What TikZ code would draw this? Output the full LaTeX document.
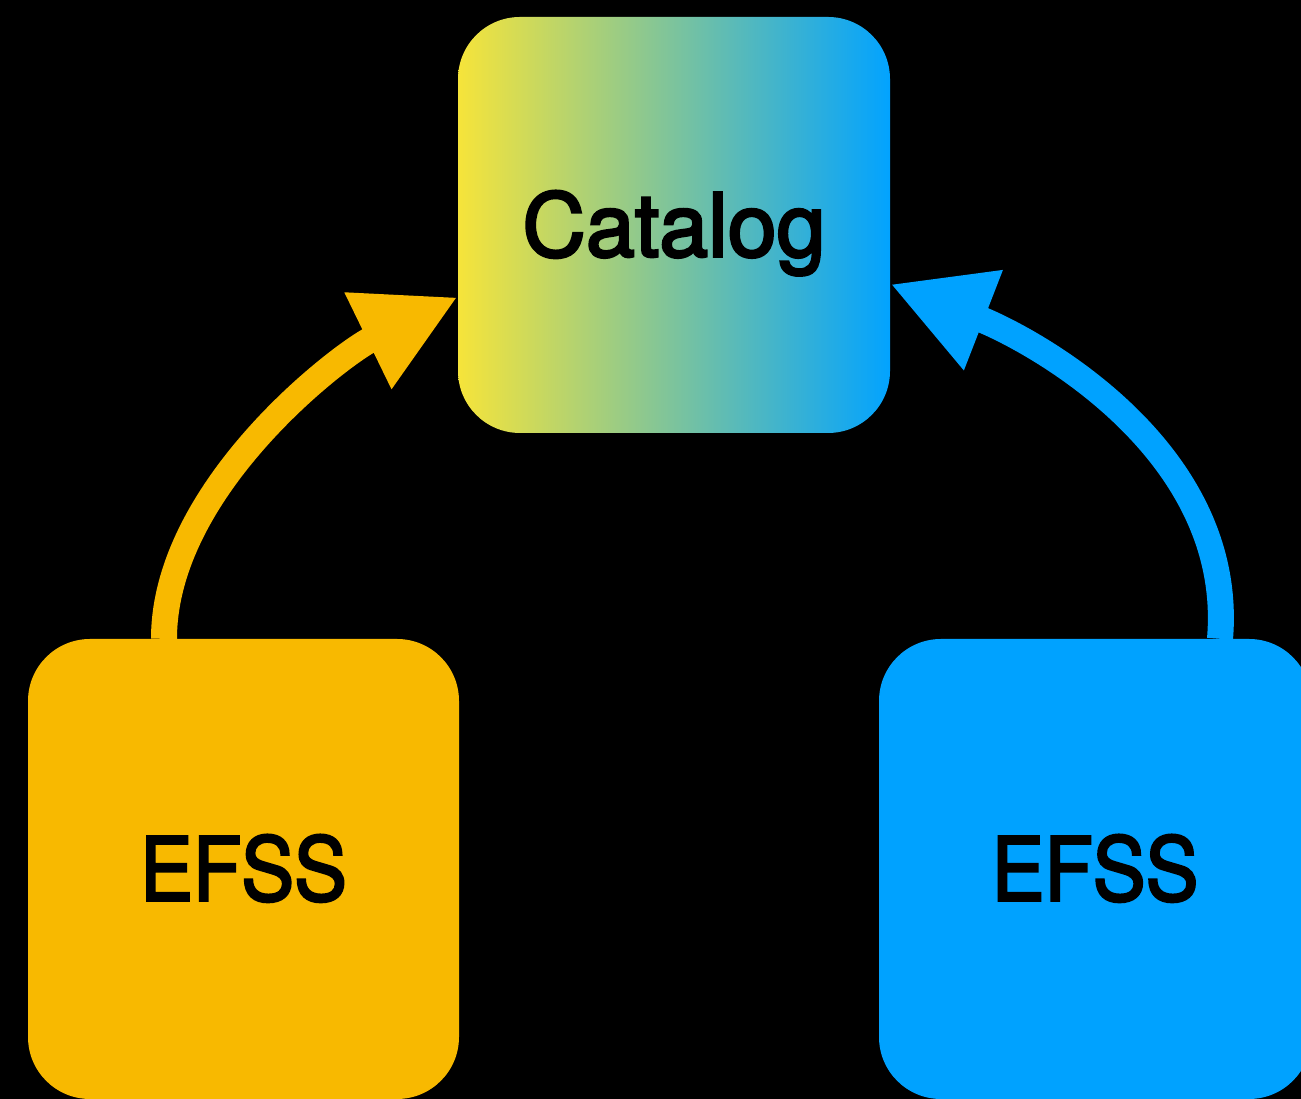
\documentclass[tikz,border=0pt]{standalone}
\usepackage{fontspec}
\setmainfont{TeX Gyre Heros}
\usetikzlibrary{arrows.meta,calc}
\definecolor{efssorange}{RGB}{248,185,0}
\definecolor{efssblue}{RGB}{0,162,255}
\definecolor{gradyellow}{RGB}{246,228,58}
\definecolor{gradblue}{RGB}{2,163,255}
\newcommand{\heavytext}[1]{\special{pdf:literal direct 2 Tr 2.6 w}#1\special{pdf:literal direct 0 Tr}}
\begin{document}
\begin{tikzpicture}[x=1pt,y=1pt,
  box/.style={rectangle, rounded corners=62pt, inner sep=0pt, text=black,
    text height=63pt, text depth=0pt, font=\fontsize{88}{96}\selectfont},
  flow/.style={line width=26pt, -{Triangle[length=100pt,width=100pt]}}]
\fill[black] (0,0) rectangle (1301,1099);
\useasboundingbox (0,0) rectangle (1301,1099);
\node[box, minimum width=432pt, minimum height=416pt,
      left color=gradyellow, right color=gradblue] (cat) at (674,874) {\heavytext{Catalog}};
\node[box, fill=efssorange, minimum width=431pt, minimum height=460pt]
      (efssL) at (243.5,230) {\scalebox{0.9}[1]{\heavytext{EFSS}}};
\node[box, fill=efssblue, minimum width=432pt, minimum height=460pt]
      (efssR) at (1095,230) {\scalebox{0.9}[1]{\heavytext{EFSS}}};
\draw[flow, efssorange] ($(efssL.north)+(-79.5,0)$) .. controls +(0,150) and +(-117.4,-57.2) .. ($(cat.west)+(0,-72)$);
\draw[flow, efssblue] ($(efssR.north)+(125,0)$) .. controls +(16,190) and +(140,-54.4) .. ($(cat.east)+(0,-59)$);
\end{tikzpicture}
\end{document}
